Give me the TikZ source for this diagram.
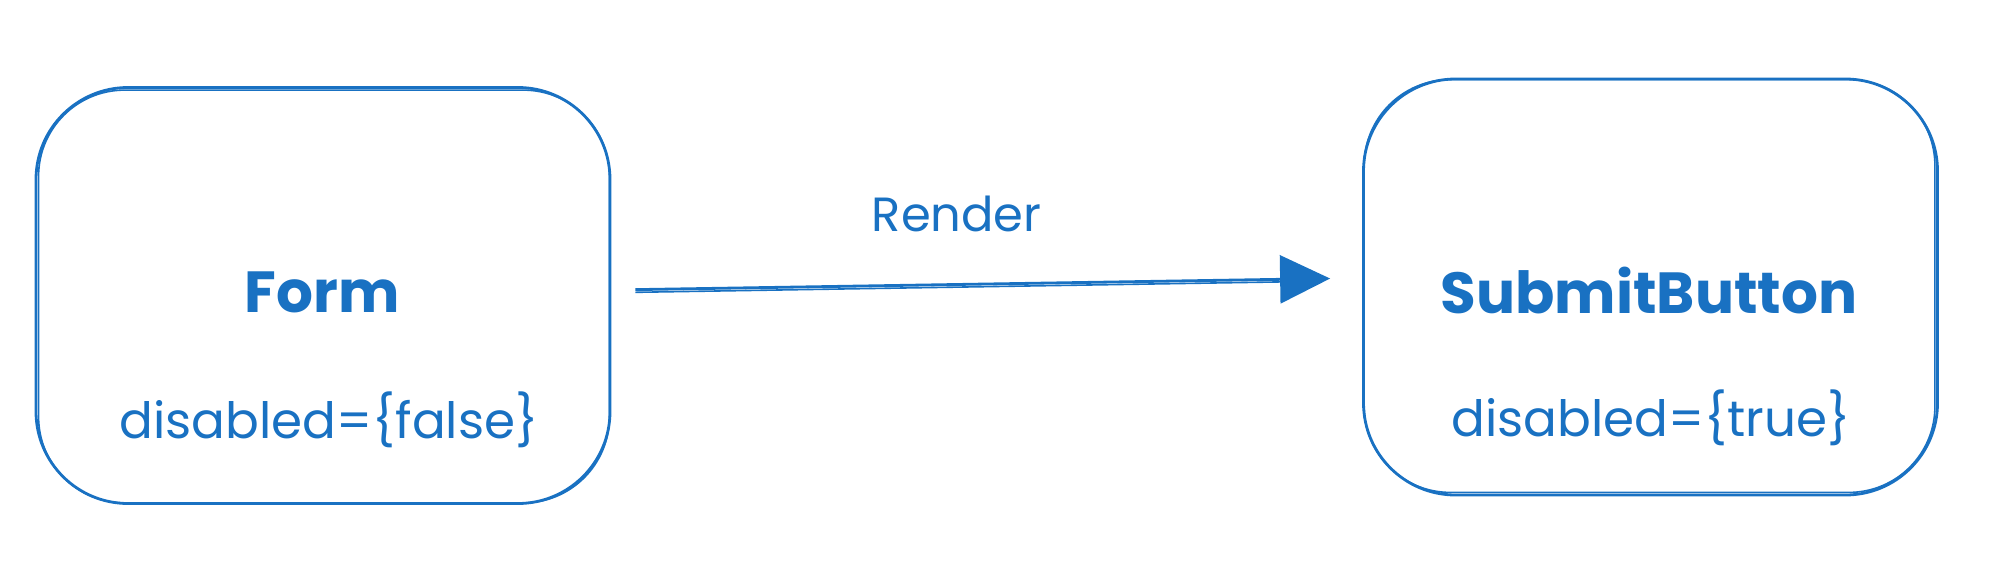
\documentclass[tikz,border=0pt]{standalone}
\usepackage{fontspec}
\setmainfont{Poppins}
\usetikzlibrary{arrows.meta}
\definecolor{exblue}{RGB}{25,113,194}
\tikzset{
  sketchbox/.style={draw=exblue, line width=1.4pt, rounded corners=46pt, minimum width=287pt, minimum height=208pt, inner sep=0pt},
  sketchbox2/.style={draw=exblue, line width=0.8pt, rounded corners=43pt},
  titletext/.style={text=exblue, font=\fontsize{29}{34}\selectfont\bfseries},
  proptext/.style={text=exblue, font=\fontsize{25}{30}\selectfont},
  labeltext/.style={text=exblue, font=\fontsize{24}{28}\selectfont},
  conn/.style={draw=exblue, line width=1.4pt, -{Triangle[length=25pt,width=24pt]}, shorten <=12pt, shorten >=16pt}
}
\begin{document}
\begin{tikzpicture}[x=0.5pt,y=-0.5pt]
\useasboundingbox (0,0) rectangle (2000,573);
% boxes
\node[sketchbox] (form) at (323,295.5) {};
\node[sketchbox] (submit) at (1650.5,287) {};
% sketchy second strokes
\draw[sketchbox2] ([xshift=2pt,yshift=1pt]form.south west) rectangle ([xshift=-1pt,yshift=-2pt]form.north east);
\draw[sketchbox2] ([xshift=1pt,yshift=2pt]submit.south west) rectangle ([xshift=-2pt,yshift=-1pt]submit.north east);
% texts
\node[titletext] (formtitle) at (322,292) {Form};
\node[proptext] (formprop) at (329,420) {disabled=\{false\}};
\node[titletext] (submittitle) at (1649,290) {SubmitButton};
\node[proptext] (submitprop) at (1651,418) {disabled=\{true\}};
% connector
\draw[conn] ([yshift=2.75pt]form.east) -- node[labeltext, above=22pt, pos=0.46] (render) {Render} ([yshift=4.5pt]submit.west);
\draw[exblue, line width=0.8pt, shorten <=12pt, shorten >=35pt] ([yshift=1.4pt]form.east) -- ([yshift=3.2pt]submit.west);
\end{tikzpicture}
\end{document}
